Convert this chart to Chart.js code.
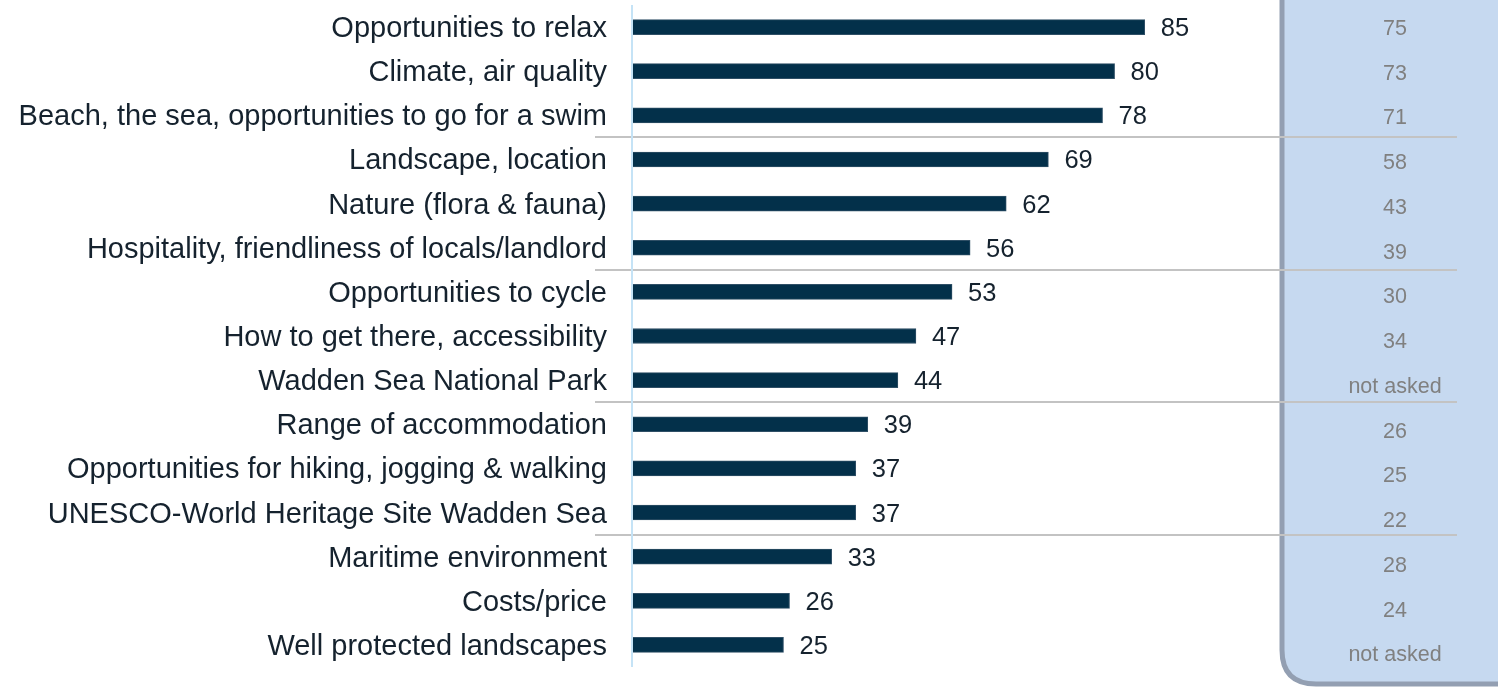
<!DOCTYPE html>
<html>
<head>
<meta charset="utf-8">
<script src="https://cdn.jsdelivr.net/npm/chart.js@4/dist/chart.umd.min.js"></script>
<style>
  html, body { margin: 0; padding: 0; background: #fff; }
  #wrap { width: 1498px; height: 687px; position: relative; }
</style>
</head>
<body>
<div id="wrap"><canvas id="chart" width="1498" height="687"></canvas></div>
<script>
const categories = [
  'Opportunities to relax',
  'Climate, air quality',
  'Beach, the sea, opportunities to go for a swim',
  'Landscape, location',
  'Nature (flora & fauna)',
  'Hospitality, friendliness of locals/landlord',
  'Opportunities to cycle',
  'How to get there, accessibility',
  'Wadden Sea National Park',
  'Range of accommodation',
  'Opportunities for hiking, jogging & walking',
  'UNESCO-World Heritage Site Wadden Sea',
  'Maritime environment',
  'Costs/price',
  'Well protected landscapes'
];
const values = [85, 80, 78, 69, 62, 56, 53, 47, 44, 39, 37, 37, 33, 26, 25];
const previous = ['75', '73', '71', '58', '43', '39', '30', '34', 'not asked', '26', '25', '22', '28', '24', 'not asked'];
const groupBreaks = [3, 6, 9, 12];

const FONT = 'Arial, "Liberation Sans", sans-serif';

// blue panel with earlier results + separators + axis line
const decor = {
  id: 'decor',
  beforeDatasetsDraw(chart) {
    const { ctx, chartArea, scales } = chart;
    const y = scales.y;
    ctx.save();
    // panel
    const px = 1282, pb = 684, r = 34;
    ctx.beginPath();
    ctx.moveTo(px, -10);
    ctx.lineTo(px, pb - r);
    ctx.quadraticCurveTo(px, pb, px + r, pb);
    ctx.lineTo(1510, pb);
    ctx.lineTo(1510, -10);
    ctx.closePath();
    ctx.fillStyle = '#c6d9f0';
    ctx.fill();
    ctx.lineWidth = 5;
    ctx.strokeStyle = '#939fb2';
    ctx.stroke();

    // separators
    ctx.strokeStyle = '#c3c3c3';
    ctx.lineWidth = 2;
    groupBreaks.forEach((b) => {
      const yy = Math.round((y.getPixelForValue(b - 1) + y.getPixelForValue(b)) / 2);
      ctx.beginPath();
      ctx.moveTo(595, yy);
      ctx.lineTo(1457, yy);
      ctx.stroke();
    });

    // axis line
    ctx.strokeStyle = '#c5e3f6';
    ctx.lineWidth = 2;
    ctx.beginPath();
    ctx.moveTo(chartArea.left - 1, chartArea.top);
    ctx.lineTo(chartArea.left - 1, chartArea.bottom);
    ctx.stroke();

    // earlier results
    ctx.fillStyle = '#808080';
    ctx.font = '21.5px ' + FONT;
    ctx.textAlign = 'center';
    ctx.textBaseline = 'middle';
    previous.forEach((p, i) => {
      ctx.fillText(p, 1395, y.getPixelForValue(i) + 2 + i * 0.6);
    });
    ctx.restore();
  },
  afterDatasetsDraw(chart) {
    const { ctx } = chart;
    const meta = chart.getDatasetMeta(0);
    ctx.save();
    ctx.fillStyle = '#15222e';
    ctx.font = '25.5px ' + FONT;
    ctx.textAlign = 'left';
    ctx.textBaseline = 'middle';
    meta.data.forEach((bar, i) => {
      ctx.fillText(String(values[i]), bar.x + 16, bar.y + 2);
    });
    ctx.restore();
  }
};

new Chart(document.getElementById('chart'), {
  type: 'bar',
  data: {
    labels: categories,
    datasets: [{
      data: values,
      backgroundColor: '#03304a',
      borderColor: '#2f4f66',
      borderWidth: 1,
      barThickness: 15
    }]
  },
  options: {
    indexAxis: 'y',
    responsive: false,
    animation: false,
    layout: { padding: { top: 5, bottom: 20, right: 263, left: 0 } },
    plugins: { legend: { display: false }, tooltip: { enabled: false } },
    scales: {
      x: { display: false, min: 0, max: 100 },
      y: {
        afterFit(scale) {
          scale.width = 633;
          scale.paddingTop = 0;
          scale.paddingBottom = 0;
        },
        grid: { display: false, drawTicks: false },
        border: { display: false },
        ticks: { color: '#15222e', font: { family: FONT, size: 29 }, padding: 26, labelOffset: 2 }
      }
    }
  },
  plugins: [decor]
});
</script>
</body>
</html>
